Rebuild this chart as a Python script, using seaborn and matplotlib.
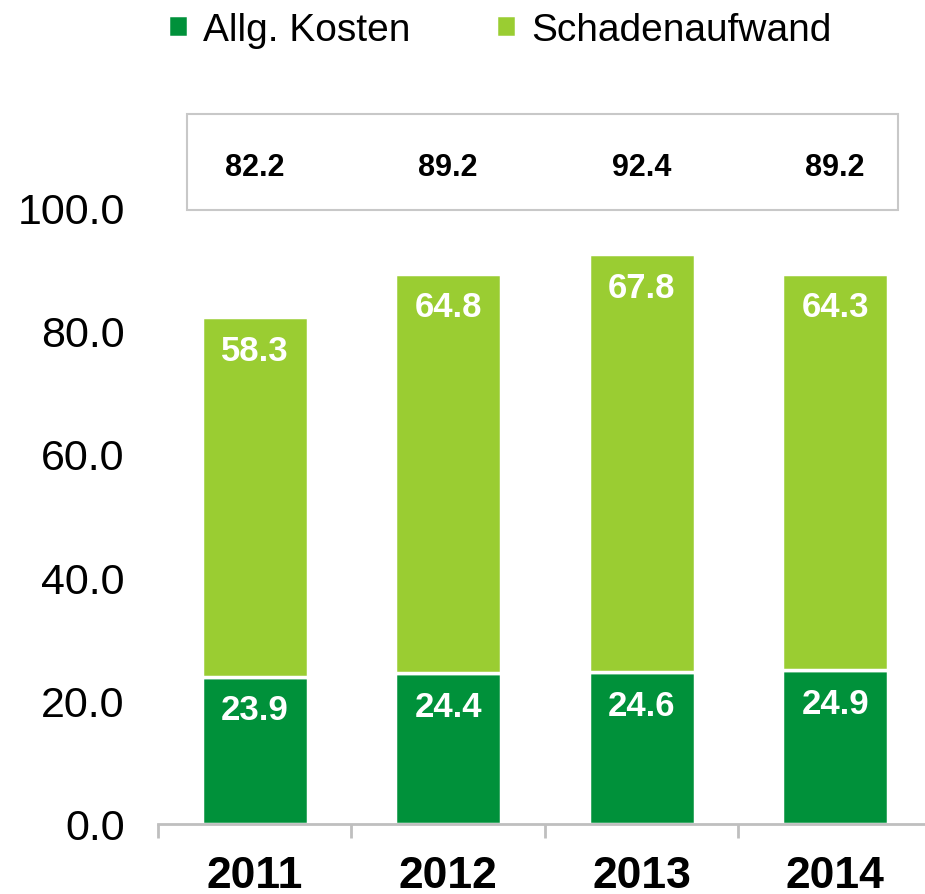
import pandas as pd
import numpy as np
import seaborn as sns
import matplotlib.pyplot as plt
from matplotlib.patches import Rectangle

# Werte
jahre = ["2011", "2012", "2013", "2014"]
allg_kosten = [23.9, 24.4, 24.6, 24.9]
schadenaufwand = [58.3, 64.8, 67.8, 64.3]
gesamt = [82.2, 89.2, 92.4, 89.2]

dunkelgruen = "#00913A"
hellgruen = "#9ACD32"

df = pd.DataFrame({"Jahr": jahre, "Allg": allg_kosten, "Schaden": schadenaufwand})

sns.set_theme(style="white")
plt.rcParams['font.family'] = ['Liberation Sans', 'DejaVu Sans']
plt.rcParams['text.color'] = 'black'

fig = plt.figure(figsize=(9.25, 8.95), dpi=100)
ax = fig.add_axes([158 / 925, 70 / 895, 1 - 158 / 925, 617 / 895])

sns.barplot(data=df, x="Jahr", y="Allg", color=dunkelgruen, width=0.55,
            edgecolor="white", linewidth=2.5, saturation=1, ax=ax,
            label="Allg. Kosten")
sns.barplot(data=df, x="Jahr", y="Schaden", color=hellgruen, width=0.55,
            edgecolor="white", linewidth=2.5, saturation=1, ax=ax,
            bottom=df["Allg"].values, label="Schadenaufwand")

# Beschriftungen in den Balken
for i in range(len(jahre)):
    ax.annotate(f"{allg_kosten[i]:.1f}", (i, allg_kosten[i]), xytext=(0, -24),
                textcoords="offset points", ha="center", va="center",
                color="white", fontsize=25, fontweight="bold")
    ax.annotate(f"{schadenaufwand[i]:.1f}", (i, gesamt[i]), xytext=(0, -24),
                textcoords="offset points", ha="center", va="center",
                color="white", fontsize=25, fontweight="bold")
    ax.text(i, 106.5, f"{gesamt[i]:.1f}", ha="center", va="center",
            color="black", fontsize=22, fontweight="bold", clip_on=False)

# Kasten mit Summen
box = Rectangle((-0.35, 99.5), 3.675, 15.6, fill=False, edgecolor="#C8C8C8",
                linewidth=1.5, clip_on=False)
ax.add_patch(box)

ax.set_ylim(0, 100)
ax.set_xlim(-0.5, 3.464)
ax.set_yticks(np.arange(0, 101, 20))
ax.set_yticklabels([f"{v:.1f}" for v in np.arange(0, 101, 20)])
ax.set_xlabel("")
ax.set_ylabel("")

for s in ["top", "right", "left"]:
    ax.spines[s].set_visible(False)
ax.spines["bottom"].set_color("#BFBFBF")
ax.spines["bottom"].set_linewidth(2)

ax.tick_params(axis="y", length=0, pad=24, labelsize=31, labelcolor="black")
ax.tick_params(axis="x", which="major", length=0, pad=22, labelsize=32,
               labelcolor="black")
for lab in ax.get_xticklabels():
    lab.set_fontweight("bold")
ax.set_xticks([-0.5, 0.5, 1.5, 2.5], minor=True)
ax.tick_params(axis="x", which="minor", length=10, width=2, color="#BFBFBF",
               direction="out", bottom=True)

handles, labels = ax.get_legend_handles_labels()
if ax.legend_:
    ax.legend_.remove()
leg = fig.legend(handles, labels, loc="upper left", bbox_to_anchor=(145 / 925, 1.012),
                 ncol=2, frameon=False, fontsize=28, handlelength=0.5,
                 handleheight=0.5, handletextpad=0.4, columnspacing=2.2,
                 borderaxespad=0.2)
for t in leg.get_texts():
    t.set_color("black")

plt.savefig("out.png", dpi=100)
